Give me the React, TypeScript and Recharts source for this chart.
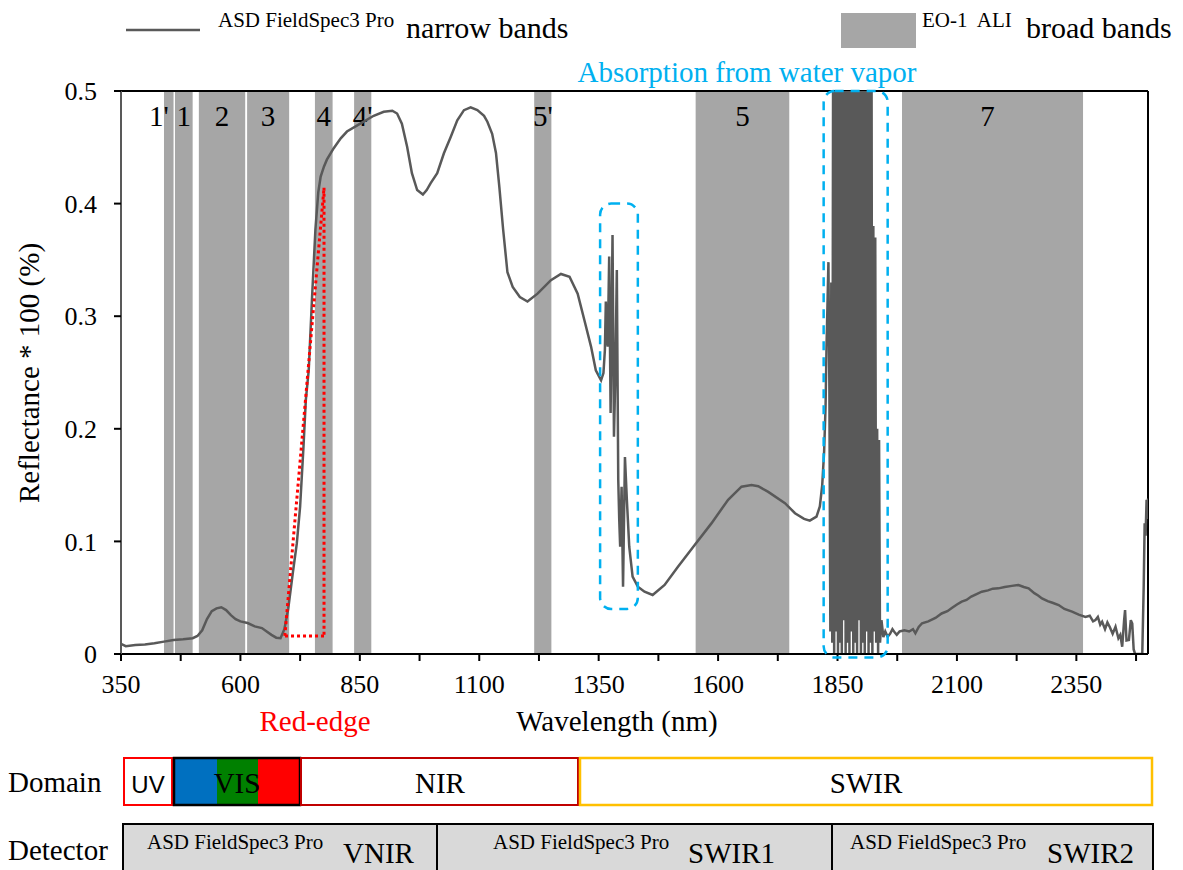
import React from 'react';
import { LineChart, Line, XAxis, YAxis, ReferenceArea, ReferenceLine } from 'recharts';

// ASD spectrum
const wavelength = [
  350, 360, 380, 400, 420, 440, 460, 480, 500, 510, 520, 530, 540, 550, 560, 570, 580, 590, 600, 615,
  630, 645, 655, 665, 675, 684, 692, 700, 710, 718, 725, 732, 737, 743, 750, 757, 763, 768, 775, 781,
  795, 810, 823, 851, 879, 900, 918, 928, 938, 949, 959, 970, 982, 990, 998, 1012, 1026, 1040, 1054, 1068,
  1082, 1096, 1110, 1117, 1127, 1135, 1142, 1150, 1159, 1170, 1185, 1201, 1222, 1250, 1271, 1289, 1306, 1320, 1334, 1344,
  1355, 1360, 1363, 1365, 1367, 1369, 1372, 1375, 1379, 1382, 1385, 1388, 1391, 1393, 1395, 1398, 1401, 1405, 1409, 1414,
  1421, 1432, 1446, 1463, 1488, 1516, 1551, 1586, 1621, 1649, 1670, 1684, 1705, 1740, 1761, 1780, 1792, 1806, 1813, 1818,
  1822, 1825, 1827, 1829, 1831, 1833, 1835, 1837, 1839, 1841, 1843, 1845, 1847, 1849, 1851, 1853, 1855, 1857, 1859, 1861,
  1863, 1865, 1867, 1869, 1871, 1873, 1875, 1877, 1879, 1881, 1883, 1885, 1887, 1889, 1891, 1893, 1895, 1897, 1899, 1901,
  1903, 1905, 1907, 1909, 1911, 1913, 1915, 1917, 1919, 1921, 1923, 1925, 1927, 1929, 1931, 1933, 1935, 1937, 1939, 1942,
  1946, 1950, 1955, 1960, 1965, 1970, 1974, 1980, 1990, 2000, 2008, 2013, 2020, 2027, 2040, 2055, 2068, 2080, 2090, 2100,
  2110, 2120, 2130, 2140, 2152, 2165, 2175, 2187, 2200, 2215, 2229, 2240, 2250, 2262, 2270, 2278, 2290, 2300, 2313, 2325,
  2341, 2355, 2369, 2378, 2385, 2390, 2395, 2400, 2404, 2410, 2415, 2420, 2426, 2432, 2438, 2442, 2446, 2450, 2452, 2455,
  2460, 2464, 2467, 2470, 2473, 2480, 2488, 2491, 2493, 2495, 2497, 2499, 2500,
];
const reflectance = [
  0.009, 0.007, 0.008, 0.0085, 0.0095, 0.011, 0.0125, 0.013, 0.014, 0.016, 0.021, 0.031, 0.038, 0.0405, 0.0415, 0.039, 0.0345, 0.031, 0.029, 0.0275,
  0.0245, 0.023, 0.02, 0.017, 0.0145, 0.014, 0.022, 0.04, 0.073, 0.098, 0.131, 0.184, 0.226, 0.252, 0.317, 0.377, 0.41, 0.424, 0.433, 0.439,
  0.449, 0.458, 0.464, 0.471, 0.478, 0.4816, 0.4825, 0.48, 0.471, 0.4505, 0.427, 0.412, 0.408, 0.412, 0.418, 0.427, 0.4447, 0.459, 0.474, 0.483,
  0.4855, 0.483, 0.478, 0.4727, 0.462, 0.445, 0.415, 0.377, 0.339, 0.326, 0.317, 0.313, 0.32, 0.332, 0.3375, 0.335, 0.32, 0.2966, 0.273, 0.252,
  0.243, 0.2495, 0.27, 0.313, 0.28, 0.273, 0.353, 0.214, 0.372, 0.193, 0.25, 0.341, 0.1545, 0.12, 0.0953, 0.1486, 0.0598, 0.175, 0.137, 0.0953,
  0.0687, 0.0598, 0.0553, 0.0524, 0.0613, 0.0775, 0.0968, 0.116, 0.137, 0.1486, 0.15, 0.149, 0.144, 0.134, 0.125, 0.12, 0.1184, 0.122, 0.131, 0.15,
  0.18, 0.22, 0.273, 0.31, 0.348, 0.235, 0.02, 0.33, 0.01, 0.6, 0.0, 0.6, 0.02, 0.6, 0.0, 0.6, 0.01, 0.6, 0.0, 0.6,
  0.03, 0.6, 0.0, 0.6, 0.01, 0.6, 0.0, 0.6, 0.02, 0.6, 0.0, 0.6, 0.01, 0.6, 0.0, 0.6, 0.03, 0.6, 0.0, 0.6,
  0.01, 0.6, 0.0, 0.6, 0.02, 0.6, 0.0, 0.6, 0.01, 0.6, 0.0, 0.38, 0.02, 0.37, 0.01, 0.2, 0.0, 0.19, 0.01, 0.03,
  0.015, 0.02, 0.0154, 0.018, 0.022, 0.019, 0.017, 0.02, 0.021, 0.02, 0.022, 0.0184, 0.024, 0.0273, 0.029, 0.032, 0.036, 0.038, 0.041, 0.044,
  0.0465, 0.048, 0.051, 0.053, 0.0553, 0.0565, 0.058, 0.0583, 0.0595, 0.0605, 0.0613, 0.0595, 0.0583, 0.054, 0.052, 0.0494, 0.047, 0.0455, 0.0435, 0.04,
  0.0376, 0.035, 0.033, 0.034, 0.029, 0.0302, 0.033, 0.026, 0.0287, 0.022, 0.028, 0.024, 0.018, 0.0242, 0.014, 0.017, 0.0065, 0.03, 0.039, 0.012,
  0.0124, 0.03, 0.027, 0.004, 0, 0, 0, 0.06, 0.116, 0.105, 0.137, 0.12, 0.138,
];

// EO-1 ALI broad bands (nm), as drawn in the figure
const bandNames = ["1'", '1', '2', '3', '4', "4'", "5'", '5', '7'];
const bandStart = [440, 463, 513, 614, 756, 838, 1215, 1553, 1985];
const bandEnd = [460, 500, 610, 702, 793, 874, 1251, 1749, 2364];

const xTicks = [350, 475, 600, 725, 850, 975, 1100, 1225, 1350, 1475, 1600, 1725, 1850, 1975, 2100, 2225, 2350, 2475];
const xLabelled = [350, 600, 850, 1100, 1350, 1600, 1850, 2100, 2350];
const yTicks = [0, 0.1, 0.2, 0.3, 0.4, 0.5];

const spectrum = wavelength.map((w, i) => ({ w, r: reflectance[i] }));

const serif = 'Liberation Serif';
const cyan = '#00b0f0';

const bandLabel = (name: string) => (props: any) => {
  const vb = props.viewBox;
  const dx = name === "1'" ? -10 : name === '7' ? -5 : 0;
  return (
    <text x={vb.x + vb.width / 2 + dx} y={vb.y + 35} textAnchor="middle" fontFamily={serif} fontSize={29} fill="#000">
      {name}
    </text>
  );
};

const roundedBox = (props: any) => (
  <rect x={props.x} y={props.y} width={props.width} height={props.height} rx={11} ry={11}
    fill="none" stroke={cyan} strokeWidth={2.5} strokeDasharray="9 7" />
);

export default function App() {
  return (
    <div style={{ position: 'absolute', left: 0, top: 0, width: 1183, height: 870, background: '#fff' }}>
      <LineChart width={1183} height={870} data={spectrum} margin={{ top: 91, right: 35, left: 61, bottom: 176 }}>
        <XAxis dataKey="w" type="number" domain={[350, 2500]} ticks={xTicks} allowDataOverflow
          tickFormatter={(v: number) => (xLabelled.includes(v) ? String(v) : '')}
          tick={{ fontSize: 26, fontFamily: serif, fill: '#000' }} height={40}
          tickSize={7} tickMargin={14} axisLine={{ stroke: '#000', strokeWidth: 2 }} tickLine={{ stroke: '#000', strokeWidth: 2 }} />
        <YAxis type="number" domain={[0, 0.5]} ticks={yTicks} allowDataOverflow width={60}
          tickFormatter={(v: number) => String(v)}
          tick={{ fontSize: 26, fontFamily: serif, fill: '#000' }}
          tickSize={7} tickMargin={17} axisLine={{ stroke: '#595959', strokeWidth: 2 }} tickLine={{ stroke: '#000', strokeWidth: 2 }} />
        {bandNames.map((n, i) => (
          <ReferenceArea key={n} x1={bandStart[i]} x2={bandEnd[i]} y1={0} y2={0.5} fill="#a6a6a6" fillOpacity={1}
            stroke="none" label={bandLabel(n)} />
        ))}
        <ReferenceLine y={0.5} stroke="#000" strokeWidth={2} />
        <ReferenceLine x={2500} stroke="#000" strokeWidth={2} />
        <Line dataKey="r" type="linear" stroke="#595959" strokeWidth={2.5} dot={false} isAnimationActive={false} />
        <ReferenceArea x1={1353} x2={1432} y1={0.04} y2={0.4} shape={roundedBox} ifOverflow="visible" zIndex={1500} />
        <ReferenceArea x1={1821} x2={1955} y1={-0.003} y2={0.5} shape={roundedBox} ifOverflow="visible" zIndex={1500} />
        <ReferenceLine segment={[{ x: 693, y: 0.016 }, { x: 775, y: 0.414 }]} stroke="red" strokeWidth={3} strokeDasharray="3 3" />
        <ReferenceLine segment={[{ x: 775, y: 0.414 }, { x: 775, y: 0.016 }]} stroke="red" strokeWidth={3} strokeDasharray="3 3" />
        <ReferenceLine segment={[{ x: 775, y: 0.016 }, { x: 693, y: 0.016 }]} stroke="red" strokeWidth={3} strokeDasharray="3 3" />
      </LineChart>

      <svg width={1183} height={870} style={{ position: 'absolute', left: 0, top: 0, pointerEvents: 'none' }} fontFamily={serif}>
        {/* legend */}
        <line x1={126} y1={30} x2={200} y2={30} stroke="#595959" strokeWidth={2.5} />
        <text x={218} y={27} fontSize={21}>ASD FieldSpec3 Pro</text>
        <text x={406} y={38} fontSize={30}>narrow bands</text>
        <rect x={841} y={13} width={75} height={35} fill="#a6a6a6" />
        <text x={922} y={27} fontSize={21} xmlSpace="preserve">EO-1  ALI</text>
        <text x={1026} y={38} fontSize={30}>broad bands</text>

        <text x={747} y={82} fontSize={29} fill={cyan} textAnchor="middle">Absorption from water vapor</text>

        {/* axis titles */}
        <text x={617} y={731} fontSize={29} textAnchor="middle">Wavelength (nm)</text>
        <text x={315} y={731} fontSize={29} textAnchor="middle" fill="#ff0000">Red-edge</text>
        <text transform="translate(39,373) rotate(-90)" fontSize={29} textAnchor="middle">Reflectance * 100 (%)</text>

        {/* domain row */}
        <text x={8} y={792} fontSize={29}>Domain</text>
        <rect x={124} y={758} width={48} height={47} fill="#fff" stroke="#ff0000" strokeWidth={2} />
        <text x={148} y={793} fontSize={24} fontFamily="Liberation Sans" textAnchor="middle">UV</text>
        <rect x={174} y={758} width={43} height={47} fill="#0070c0" />
        <rect x={217} y={758} width={41} height={47} fill="#008000" />
        <rect x={258} y={758} width={42} height={47} fill="#ff0000" />
        <rect x={174} y={758} width={126} height={47} fill="none" stroke="#000" strokeWidth={2.5} />
        <text x={237} y={793} fontSize={29} textAnchor="middle">VIS</text>
        <rect x={301} y={758} width={277} height={47} fill="#fff" stroke="#c00000" strokeWidth={2} />
        <text x={440} y={793} fontSize={29} textAnchor="middle">NIR</text>
        <rect x={580} y={758} width={572} height={47} fill="#fff" stroke="#ffc000" strokeWidth={2.5} />
        <text x={866} y={793} fontSize={29} textAnchor="middle">SWIR</text>

        {/* detector row */}
        <text x={8} y={860} fontSize={29}>Detector</text>
        <rect x={123} y={824} width={314} height={50} fill="#d9d9d9" stroke="#000" strokeWidth={2} />
        <rect x={437} y={824} width={395} height={50} fill="#d9d9d9" stroke="#000" strokeWidth={2} />
        <rect x={832} y={824} width={321} height={50} fill="#d9d9d9" stroke="#000" strokeWidth={2} />
        <text x={147} y={849} fontSize={21}>ASD FieldSpec3 Pro</text>
        <text x={343} y={863} fontSize={29}>VNIR</text>
        <text x={493} y={849} fontSize={21}>ASD FieldSpec3 Pro</text>
        <text x={688} y={863} fontSize={29}>SWIR1</text>
        <text x={850} y={849} fontSize={21}>ASD FieldSpec3 Pro</text>
        <text x={1047} y={863} fontSize={29}>SWIR2</text>
      </svg>
    </div>
  );
}
